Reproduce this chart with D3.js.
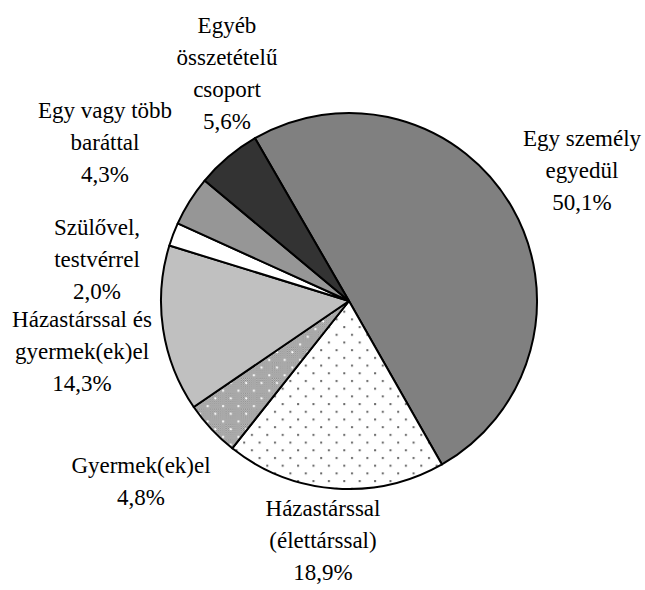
<!DOCTYPE html>
<meta charset="utf-8">
<style>

body { margin: 0; background: #fff; }

.slice {
  stroke: #000;
  stroke-width: 2px;
  stroke-linejoin: round;
}

.label {
  font-family: "Liberation Serif", Tinos, "Times New Roman", Times, "DejaVu Serif", serif;
  font-size: 23px;
  fill: #000;
}

</style>
<body>

<!-- load the d3.js library -->
<script src="https://d3js.org/d3.v7.min.js"></script>
<script>

// the data, clockwise from the top
var categories = [
  "Egy személy egyedül",
  "Házastárssal (élettárssal)",
  "Gyermek(ek)el",
  "Házastárssal és gyermek(ek)el",
  "Szülővel, testvérrel",
  "Egy vagy több baráttal",
  "Egyéb összetételű csoport"
];
var values = [50.1, 18.9, 4.8, 14.3, 2.0, 4.3, 5.6];
var labelLines = [
  ["Egy személy", "egyedül"],
  ["Házastárssal", "(élettárssal)"],
  ["Gyermek(ek)el"],
  ["Házastárssal és", "gyermek(ek)el"],
  ["Szülővel,", "testvérrel"],
  ["Egy vagy több", "baráttal"],
  ["Egyéb", "összetételű", "csoport"]
];

// fills per slice ("dots" / "checker" are patterns)
var fills = ["#808080", "url(#dots)", "url(#checker)", "#c0c0c0", "#ffffff", "#969696", "#333333"];

// where each label block starts (centre x, first baseline)
var labelPos = [
  [582, 146], [323, 516], [141, 473], [82, 327], [97, 235], [105, 118], [227, 33]
];
var lineHeight = 32;

var width = 645,
    height = 590,
    cx = 349, cy = 301,
    radius = 188;

var svg = d3.select("body").append("svg")
    .attr("width", width)
    .attr("height", height);

// patterns
var defs = svg.append("defs");

var dots = defs.append("pattern")
    .attr("id", "dots")
    .attr("patternUnits", "userSpaceOnUse")
    .attr("width", 15.4)
    .attr("height", 15.4);
dots.append("rect").attr("width", 15.4).attr("height", 15.4).attr("fill", "#fff");
dots.append("rect").attr("x", 2).attr("y", 2).attr("width", 2).attr("height", 2).attr("fill", "#666");
dots.append("rect").attr("x", 9.7).attr("y", 9.7).attr("width", 2).attr("height", 2).attr("fill", "#666");

var fine = defs.append("pattern")
    .attr("id", "fine")
    .attr("patternUnits", "userSpaceOnUse")
    .attr("width", 2)
    .attr("height", 2);
fine.append("rect").attr("width", 2).attr("height", 2).attr("fill", "#d4d4d4");
fine.append("rect").attr("width", 1).attr("height", 1).attr("fill", "#7c7c7c");
fine.append("rect").attr("x", 1).attr("y", 1).attr("width", 1).attr("height", 1).attr("fill", "#7c7c7c");

var checker = defs.append("pattern")
    .attr("id", "checker")
    .attr("patternUnits", "userSpaceOnUse")
    .attr("width", 15.4)
    .attr("height", 15.4);
checker.append("rect").attr("width", 15.4).attr("height", 15.4).attr("fill", "url(#fine)");
checker.append("rect").attr("x", 4).attr("y", 4).attr("width", 2).attr("height", 2).attr("fill", "#fff");
checker.append("rect").attr("x", 11.7).attr("y", 11.7).attr("width", 2).attr("height", 2).attr("fill", "#fff");

// the pie, starting ~30 degrees left of 12 o'clock
var start = -30 * Math.PI / 180;
var pie = d3.pie()
    .sort(null)
    .startAngle(start)
    .endAngle(start + 2 * Math.PI)
    .value(function(d) { return d; });

var arc = d3.arc()
    .innerRadius(0)
    .outerRadius(radius);

var g = svg.append("g")
    .attr("transform", "translate(" + cx + "," + cy + ")");

g.selectAll("path")
    .data(pie(values))
  .enter().append("path")
    .attr("class", "slice")
    .attr("fill", function(d, i) { return fills[i]; })
    .attr("d", arc);

// labels: name lines then the percentage
var fmt = function(v) { return v.toFixed(1).replace(".", ",") + "%"; };

categories.forEach(function(c, i) {
  var lines = labelLines[i].concat([fmt(values[i])]);
  var t = svg.append("text")
      .attr("class", "label")
      .attr("text-anchor", "middle");
  lines.forEach(function(s, j) {
    t.append("tspan")
        .attr("x", labelPos[i][0])
        .attr("y", labelPos[i][1] + j * lineHeight)
        .text(s);
  });
});

</script>
</body>
